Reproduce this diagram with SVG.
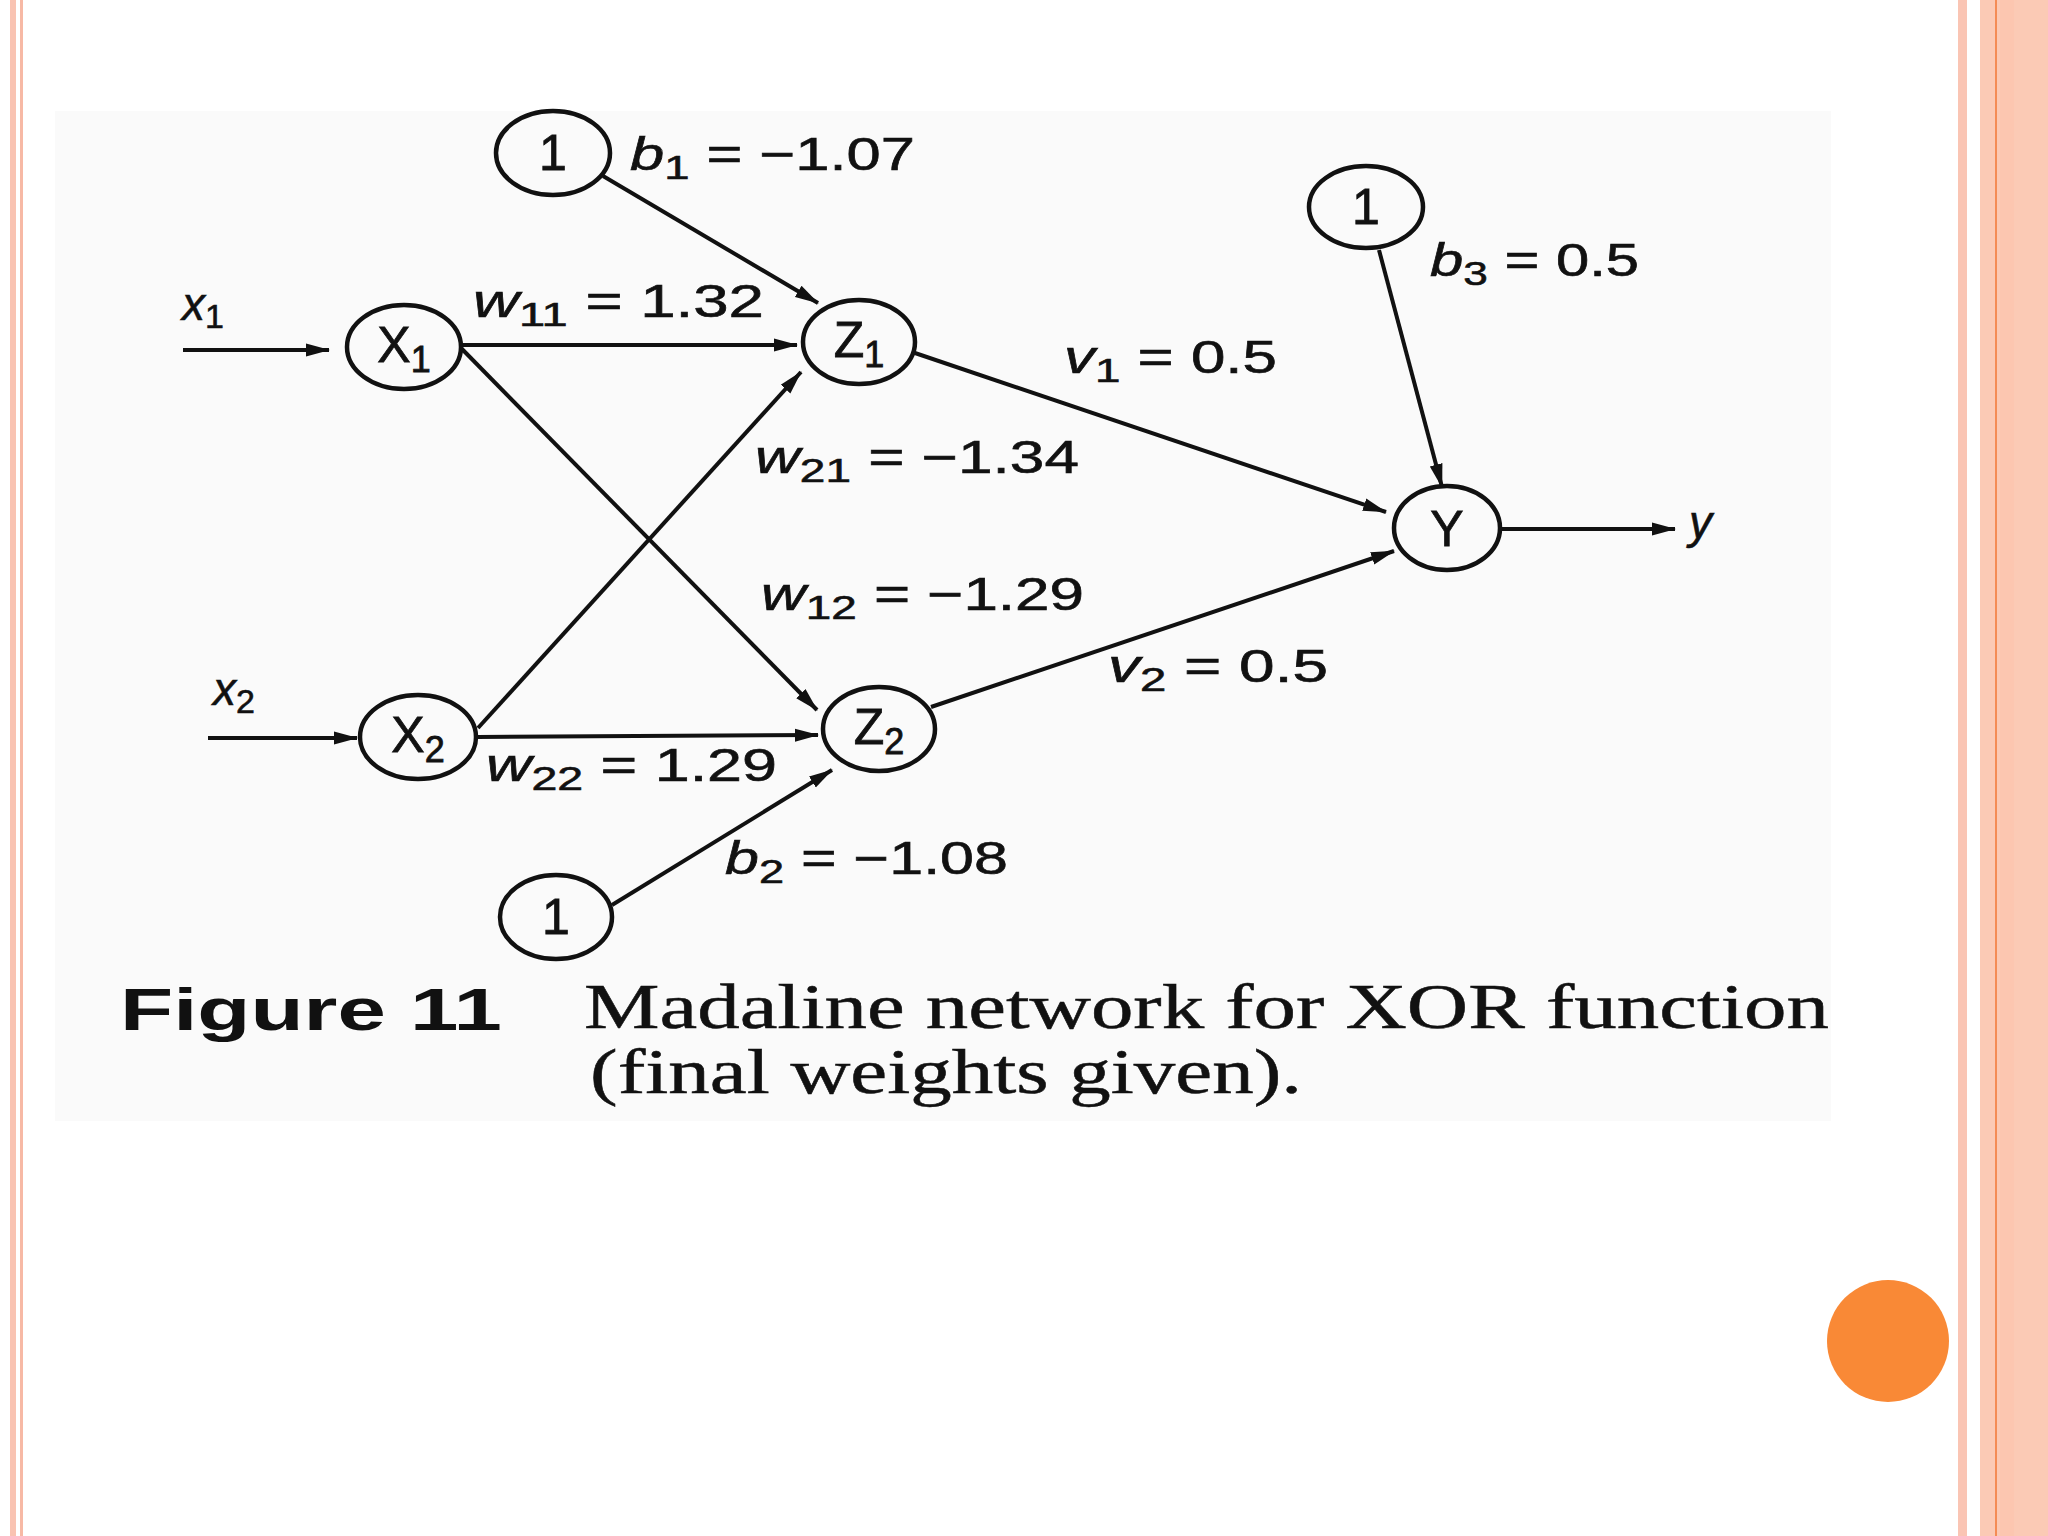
<svg xmlns="http://www.w3.org/2000/svg" width="2048" height="1536" viewBox="0 0 2048 1536">
<defs>
<marker id="ah" markerUnits="userSpaceOnUse" markerWidth="26" markerHeight="16" refX="23" refY="8" orient="auto">
<path d="M0,1.5 L24,8 L0,14.5 z" fill="#111"/>
</marker>
<style>
.node ellipse{fill:none;stroke:#111;stroke-width:4.5}
.nt{font-family:"Liberation Sans",Arial,sans-serif;font-size:50px;fill:#111;stroke:#111;stroke-width:0.8;text-anchor:middle}
.ns{font-size:36px}
.lbl{font-family:"Liberation Sans",Arial,sans-serif;font-size:46px;fill:#111;stroke:#111;stroke-width:0.6}
.sub{font-size:34px}
.it{font-style:italic}
#edges line{stroke:#111;stroke-width:4;marker-end:url(#ah)}
.cap{font-family:"Liberation Serif","Times New Roman",serif;font-size:64px;fill:#111;stroke:#111;stroke-width:0.5}
.capb{font-family:"Liberation Sans",Arial,sans-serif;font-size:60px;font-weight:bold;fill:#111}
</style>
</defs>
<rect width="2048" height="1536" fill="#ffffff"/>
<!-- slide borders -->
<rect x="10" y="0" width="6" height="1536" fill="#f9c3b2"/>
<rect x="20" y="0" width="3" height="1536" fill="#f7b9a5"/>
<rect x="1958" y="0" width="9" height="1536" fill="#fac5b4"/>
<rect x="1980" y="0" width="68" height="1536" fill="#fbcab5"/>
<rect x="1995" y="0" width="2" height="1536" fill="#f48c55"/>
<rect x="2000" y="0" width="14" height="1536" fill="#fcc6b0"/>
<ellipse cx="1888" cy="1341" rx="61" ry="61" fill="#f98936"/>
<!-- figure background -->
<rect x="55" y="111" width="1776" height="1010" fill="#fafafa"/>

<g id="edges">
<line x1="183" y1="350" x2="329" y2="350"/>
<line x1="208" y1="738" x2="357" y2="738"/>
<line x1="603" y1="176" x2="818" y2="303"/>
<line x1="462" y1="345" x2="797" y2="345"/>
<line x1="461" y1="348" x2="817" y2="710"/>
<line x1="478" y1="728" x2="801" y2="372"/>
<line x1="478" y1="737" x2="818" y2="735"/>
<line x1="612" y1="905" x2="832" y2="770"/>
<line x1="912" y1="352" x2="1386" y2="512"/>
<line x1="931" y1="707" x2="1394" y2="551"/>
<line x1="1379" y1="250" x2="1442" y2="487"/>
<line x1="1500" y1="529" x2="1675" y2="529"/>
</g>

<g id="node-b1" class="node"><ellipse cx="553" cy="153" rx="57" ry="42"/><text class="nt" x="553" y="170">1</text></g>
<g id="node-x1" class="node"><ellipse cx="404" cy="347" rx="57" ry="42"/><text class="nt" x="404" y="362">X<tspan class="ns" dy="10">1</tspan></text></g>
<g id="node-z1" class="node"><ellipse cx="859" cy="342" rx="56" ry="42"/><text class="nt" x="859" y="357">Z<tspan class="ns" dy="10">1</tspan></text></g>
<g id="node-x2" class="node"><ellipse cx="418" cy="737" rx="58" ry="42"/><text class="nt" x="418" y="752">X<tspan class="ns" dy="10">2</tspan></text></g>
<g id="node-z2" class="node"><ellipse cx="879" cy="729" rx="56" ry="42"/><text class="nt" x="879" y="744">Z<tspan class="ns" dy="10">2</tspan></text></g>
<g id="node-b2" class="node"><ellipse cx="556" cy="917" rx="56" ry="42"/><text class="nt" x="556" y="934">1</text></g>
<g id="node-b3" class="node"><ellipse cx="1366" cy="207" rx="57" ry="41"/><text class="nt" x="1366" y="224">1</text></g>
<g id="node-y" class="node"><ellipse cx="1447" cy="528" rx="53" ry="42"/><text class="nt" x="1447" y="546">Y</text></g>

<g id="labels">
<text class="lbl" x="630" y="170" textLength="285" lengthAdjust="spacingAndGlyphs"><tspan class="it">b</tspan><tspan class="sub" dy="9">1</tspan><tspan dy="-9"> = −1.07</tspan></text>
<text class="lbl" x="473" y="317" textLength="291" lengthAdjust="spacingAndGlyphs"><tspan class="it">w</tspan><tspan class="sub" dy="9">11</tspan><tspan dy="-9"> = 1.32</tspan></text>
<text class="lbl" x="755" y="473" textLength="324" lengthAdjust="spacingAndGlyphs"><tspan class="it">w</tspan><tspan class="sub" dy="9">21</tspan><tspan dy="-9"> = −1.34</tspan></text>
<text class="lbl" x="761" y="610" textLength="323" lengthAdjust="spacingAndGlyphs"><tspan class="it">w</tspan><tspan class="sub" dy="9">12</tspan><tspan dy="-9"> = −1.29</tspan></text>
<text class="lbl" x="486" y="781" textLength="291" lengthAdjust="spacingAndGlyphs"><tspan class="it">w</tspan><tspan class="sub" dy="9">22</tspan><tspan dy="-9"> = 1.29</tspan></text>
<text class="lbl" x="725" y="874" textLength="283" lengthAdjust="spacingAndGlyphs"><tspan class="it">b</tspan><tspan class="sub" dy="9">2</tspan><tspan dy="-9"> = −1.08</tspan></text>
<text class="lbl" x="1064" y="373" textLength="213" lengthAdjust="spacingAndGlyphs"><tspan class="it">v</tspan><tspan class="sub" dy="9">1</tspan><tspan dy="-9"> = 0.5</tspan></text>
<text class="lbl" x="1108" y="682" textLength="220" lengthAdjust="spacingAndGlyphs"><tspan class="it">v</tspan><tspan class="sub" dy="9">2</tspan><tspan dy="-9"> = 0.5</tspan></text>
<text class="lbl" x="1430" y="276" textLength="209" lengthAdjust="spacingAndGlyphs"><tspan class="it">b</tspan><tspan class="sub" dy="9">3</tspan><tspan dy="-9"> = 0.5</tspan></text>
<text class="lbl" x="182" y="320"><tspan class="it">x</tspan><tspan class="sub" dy="8">1</tspan></text>
<text class="lbl" x="213" y="705"><tspan class="it">x</tspan><tspan class="sub" dy="8">2</tspan></text>
<text class="lbl it" x="1689" y="538">y</text>
</g>

<g id="caption">
<text class="capb" x="120" y="1030" textLength="382" lengthAdjust="spacingAndGlyphs">Figure 11</text>
<text class="cap" x="584" y="1028" textLength="1245" lengthAdjust="spacingAndGlyphs">Madaline network for XOR function</text>
<text class="cap" x="590" y="1093" textLength="712" lengthAdjust="spacingAndGlyphs">(final weights given).</text>
</g>
</svg>
